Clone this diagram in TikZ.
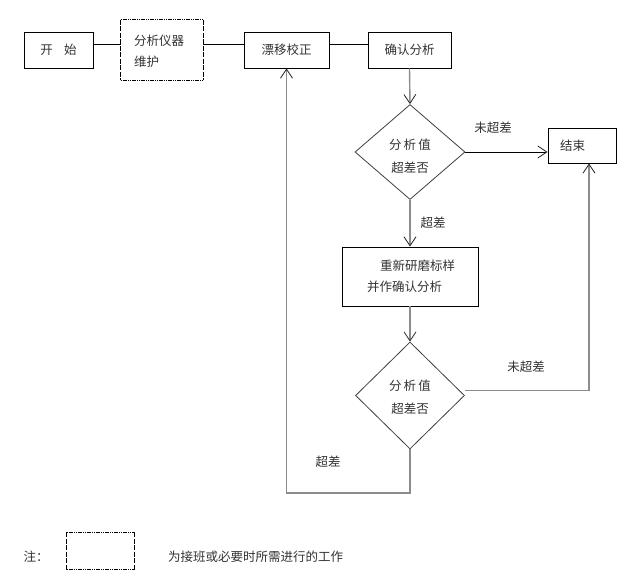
\documentclass[tikz,border=0pt]{standalone}
\usepackage{fontspec}
\setmainfont{Noto Sans CJK SC}
\usetikzlibrary{shapes.geometric,arrows.meta}
\tikzset{
  txt/.style={font=\fontsize{12.5}{12.5}\selectfont, text=black!80},
  box/.style={draw=black, line width=0.9pt, inner sep=0pt, txt},
  dia/.style={draw=black!75, line width=0.8pt, shape=diamond, inner sep=0pt, txt, align=center},
  conn/.style={draw=black, line width=0.9pt},
  garrow/.style={draw=black!45, line width=1.4pt, -{Straight Barb[length=9pt,width=12pt,line width=0.8pt,black!85]}},
  barrow/.style={draw=black, line width=0.9pt, -{Straight Barb[length=9pt,width=12pt,line width=0.8pt,black!85]}},
  dotside/.style={line width=1.3pt, dash pattern=on 1.2pt off 0.6pt},
  dashside/.style={line width=1.3pt, dash pattern=on 5pt off 1.5pt},
  lbl/.style={txt, inner sep=0pt}
}
\begin{document}
\begin{tikzpicture}[x=1pt,y=-1pt]
\useasboundingbox[fill=white] (0,0) rectangle (638,586);
% top row
\node[box, minimum width=69pt, minimum height=36pt] (start) at (58.5,50) {开\hspace{0.9em}始};
\node[txt, inner sep=0pt, minimum width=82pt, minimum height=60pt, align=left, text width=56pt] (maint) at (162,50) {\rule{0pt}{13pt}分析仪器\\[8.5pt]维护};
\draw[dotside] (maint.north west) -- (maint.north east);
\draw[dotside] (maint.south west) -- (maint.south east);
\draw[dashside] (maint.north west) -- (maint.south west);
\draw[dashside] (maint.north east) -- (maint.south east);
\node[box, minimum width=85pt, minimum height=36pt] (drift) at (286.5,50) {漂移校正};
\node[box, minimum width=83pt, minimum height=36pt] (confirm) at (409.5,50) {确认分析};
% decisions and steps
\node[dia, minimum width=110pt, minimum height=95pt] (d1) at (410,152) {\rule{0pt}{19pt}分\,析\,值\\[10pt]超差否};
\node[box, minimum width=68pt, minimum height=35pt, text width=44pt, inner xsep=12pt, align=left] (end) at (582,145.5) {结束};
\node[box, minimum width=136pt, minimum height=59pt, text width=86pt, inner xsep=25pt, align=left] (redo) at (410,276.5) {\hspace*{13pt}重新研磨标样\\[9pt]并作确认分析};
\node[dia, minimum width=109pt, minimum height=107pt] (d2) at (410,395.5) {\rule{0pt}{14pt}分\,析\,值\\[10pt]超差否};
\coordinate (lb) at (286.5,493);
% connectors
\draw[conn] ([yshift=6pt]start.east) -- ([yshift=6pt]maint.west);
\draw[conn] ([yshift=6pt]maint.east) -- ([yshift=6pt]drift.west);
\draw[conn] ([yshift=6pt]drift.east) -- ([yshift=6pt]confirm.west);
\draw[garrow] (confirm.south) -- (d1.north);
\draw[barrow] (d1.east) -- (d1.east -| end.west);
\draw[garrow] (d1.south) -- (redo.north);
\draw[garrow] (redo.south) -- (d2.north);
\draw[garrow] ([yshift=5pt]d2.east) -| ([xshift=7pt]end.south);
\draw[garrow] (d2.south) |- (lb) -- (drift.south);
% labels
\node[lbl] (l1) at (493,128) {未超差};
\node[lbl] (l2) at (433,223) {超差};
\node[lbl] (l3) at (526,367) {未超差};
\node[lbl] (l4) at (328,462) {超差};
% note
\node[lbl] (note) at (36,557) {注：};
\node[inner sep=0pt, minimum width=67pt, minimum height=37pt] (legend) at (100.5,551) {};
\draw[dotside] (legend.north west) -- (legend.north east);
\draw[dotside] (legend.south west) -- (legend.south east);
\draw[dashside] (legend.north west) -- (legend.south west);
\draw[dashside] (legend.north east) -- (legend.south east);
\node[lbl, anchor=west] (notetxt) at (168,557) {为接班或必要时所需进行的工作};
\end{tikzpicture}
\end{document}
